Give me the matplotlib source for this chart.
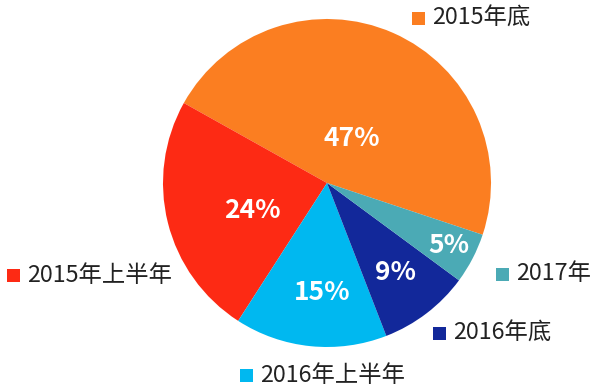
import matplotlib.pyplot as plt
from matplotlib.patches import Rectangle

plt.rcParams['font.family'] = ['Noto Sans CJK SC', 'DejaVu Sans']

# data
labels = ['2015年底', '2015年上半年', '2016年上半年', '2016年底', '2017年']
shares = [47, 24, 15, 9, 5]
colors = ['#FB7E21', '#FD2A14', '#00B8F0', '#12289A', '#4BAAB5']

# layout (pixel coords, y measured from top)
W, H = 600, 392
cx, cy, r = 327, 183, 164
pct_pos = [(352, 138), (252, 210), (322, 292), (395, 273), (449, 245)]
leg_pos = [(418, 18), (13, 275), (246, 375), (439, 333), (502, 274)]

fig = plt.figure(figsize=(W / 100, H / 100), dpi=100)
ax = fig.add_axes([0, 0, 1, 1])

wedges, _ = ax.pie(shares, colors=colors, startangle=-18.4, counterclock=True,
                   center=(cx, H - cy), radius=r,
                   wedgeprops=dict(linewidth=0))

for val, (x, y) in zip(shares, pct_pos):
    ax.text(x, H - y, f'{val}%', color='white', fontsize=19, fontweight='bold',
            ha='center', va='center')

sq = 13
for lab, col, (x, y) in zip(labels, colors, leg_pos):
    ax.add_patch(Rectangle((x - sq / 2, H - y - sq / 2), sq, sq, color=col, lw=0))
    ax.text(x + sq / 2 + 8, H - y, lab, color='#222222', fontsize=16.8,
            ha='left', va='center')

ax.set_xlim(0, W)
ax.set_ylim(0, H)
ax.set_aspect('equal')
ax.axis('off')

fig.savefig('out.png', dpi=100)
